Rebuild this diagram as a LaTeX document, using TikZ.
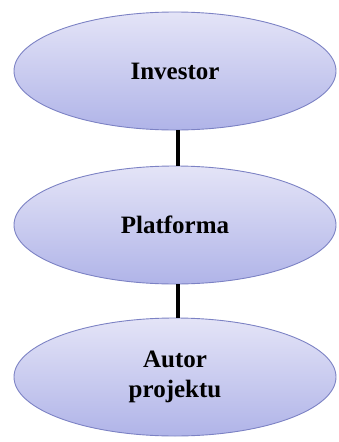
\documentclass[tikz,border=0pt]{standalone}
\usepackage{fontspec}
\setmainfont{Liberation Serif}
\usetikzlibrary{shapes.geometric}
\definecolor{elltop}{HTML}{E4E4F7}
\definecolor{ellbot}{HTML}{B0B4E8}
\definecolor{ellline}{HTML}{7C82C4}
\tikzset{
  oval/.style={ellipse, minimum width=322pt, minimum height=118pt, inner sep=0pt,
    draw=ellline, line width=0.9pt, top color=elltop, bottom color=ellbot,
    font=\bfseries\fontsize{25}{30}\selectfont, align=center, text=black},
  link/.style={line width=4pt, black}
}
\begin{document}
\begin{tikzpicture}[x=1pt,y=1pt]
\useasboundingbox (0,0) rectangle (338,-442);
\node[oval] (inv) at (175,-71) {Investor};
\node[oval] (plat) at (175,-225) {Platforma};
\node[oval] (aut) at (175,-377) {Autor\\projektu};
\draw[link] ([xshift=3pt]inv.south) -- ([xshift=3pt]plat.north);
\draw[link] ([xshift=3pt]plat.south) -- ([xshift=3pt]aut.north);
\end{tikzpicture}
\end{document}
